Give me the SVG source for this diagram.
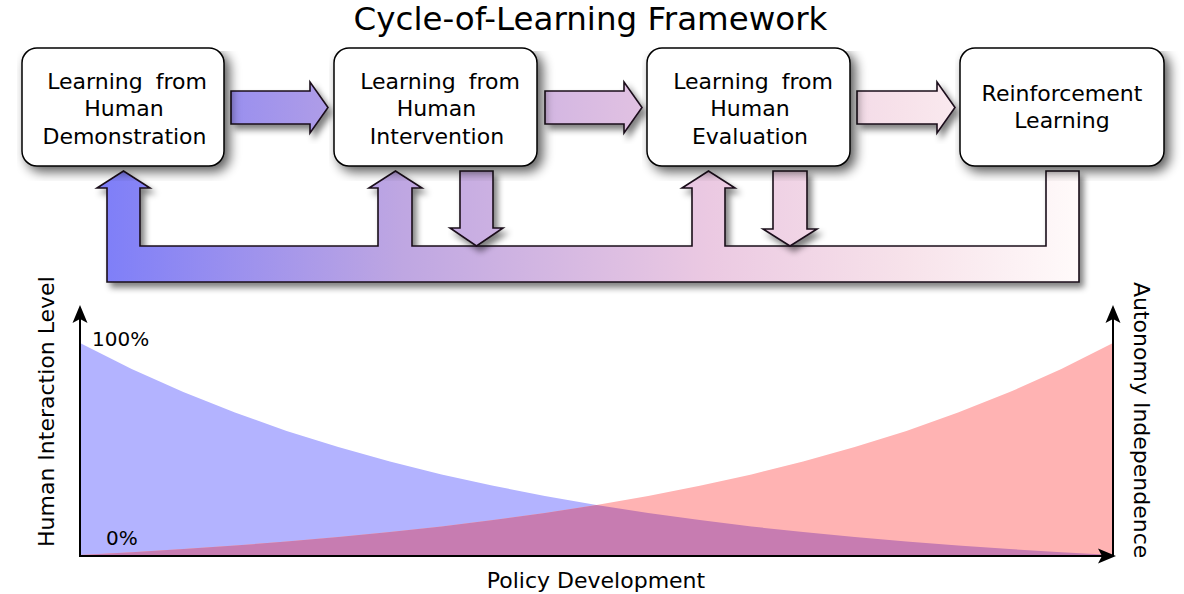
<svg xmlns="http://www.w3.org/2000/svg" width="1184" height="594" viewBox="0 0 1184 594">
<defs>
<style>
text{font-family:"DejaVu Sans","Liberation Sans",sans-serif;fill:#000}
.box{fill:#fff;stroke:#000;stroke-width:1.5}
.lbl{font-size:22px;text-anchor:middle}
.arw{fill:url(#flow);stroke:#1a0d1a;stroke-width:1.6;stroke-linejoin:miter}
.axis{stroke:#000;stroke-width:2;fill:none}
.head{fill:#000}
</style>
<linearGradient id="flow" gradientUnits="userSpaceOnUse" x1="107" y1="0" x2="1079" y2="0">
<stop offset="0" stop-color="#7f7ff8"/>
<stop offset="0.3" stop-color="#bea6e2"/>
<stop offset="0.62" stop-color="#ebc9e2"/>
<stop offset="0.82" stop-color="#f7e2ea"/>
<stop offset="1" stop-color="#fffafa"/>
</linearGradient>
<filter id="bsh" x="-4.5%" y="-1%" width="115%" height="113%">
<feGaussianBlur in="SourceAlpha" stdDeviation="6"/>
<feOffset dx="5" dy="5" result="o"/>
<feComponentTransfer><feFuncA type="linear" slope="0.65"/></feComponentTransfer>
<feMerge><feMergeNode/><feMergeNode in="SourceGraphic"/></feMerge>
</filter>
<filter id="ash" x="-10%" y="-10%" width="130%" height="130%">
<feGaussianBlur in="SourceAlpha" stdDeviation="3"/>
<feOffset dx="4" dy="5"/>
<feComponentTransfer><feFuncA type="linear" slope="0.5"/></feComponentTransfer>
<feMerge><feMergeNode/><feMergeNode in="SourceGraphic"/></feMerge>
</filter>
</defs>
<rect width="1184" height="594" fill="#fff"/>
<text x="590.5" y="30" font-size="32.5" text-anchor="middle">Cycle-of-Learning Framework</text>

<g id="connectors">
<path class="arw" filter="url(#ash)" d="M107,282 L107,188 L97,188 L123.5,171 L150,188 L140,188 L140,246 L378,246 L378,188 L369,188 L395.5,171 L422,188 L412,188 L412,246 L692,246 L692,188 L682,188 L708.5,171 L735,188 L725,188 L725,246 L1046,246 L1046,171 L1079,171 L1079,282 Z"/>
<path class="arw" filter="url(#ash)" d="M460,171 L493,171 L493,228 L503,228 L476.5,246 L450,228 L460,228 Z"/>
<path class="arw" filter="url(#ash)" d="M773,171 L807,171 L807,229 L817,229 L790,246 L763,229 L773,229 Z"/>
<path class="arw" filter="url(#ash)" d="M231,91 L310,91 L310,82 L328,107.5 L310,133 L310,124 L231,124 Z"/>
<path class="arw" filter="url(#ash)" d="M545,91 L624,91 L624,82 L642,107.5 L624,133 L624,124 L545,124 Z"/>
<path class="arw" filter="url(#ash)" d="M857,91 L937,91 L937,82 L955,107.5 L937,133 L937,124 L857,124 Z"/>
</g>

<g id="node-demonstration">
<rect class="box" filter="url(#bsh)" x="22" y="48" width="202" height="118" rx="15"/>
<text class="lbl" x="127" y="88.5" word-spacing="6">Learning from</text>
<text class="lbl" x="124" y="116">Human</text>
<text class="lbl" x="124.5" y="143.5">Demonstration</text>
</g>
<g id="node-intervention">
<rect class="box" filter="url(#bsh)" x="334" y="48" width="203" height="118" rx="15"/>
<text class="lbl" x="440" y="88.5" word-spacing="6">Learning from</text>
<text class="lbl" x="436.5" y="116">Human</text>
<text class="lbl" x="437" y="143.5">Intervention</text>
</g>
<g id="node-evaluation">
<rect class="box" filter="url(#bsh)" x="647" y="48" width="203" height="118" rx="15"/>
<text class="lbl" x="753" y="88.5" word-spacing="6">Learning from</text>
<text class="lbl" x="750" y="116">Human</text>
<text class="lbl" x="750" y="143.5">Evaluation</text>
</g>
<g id="node-reinforcement">
<rect class="box" filter="url(#bsh)" x="960" y="48" width="204" height="118" rx="15"/>
<text class="lbl" x="1062" y="100.5">Reinforcement</text>
<text class="lbl" x="1062" y="128">Learning</text>
</g>

<g id="chart">
<path fill="#b3b3ff" d="M80,555 L80,343 L131.65,369 L183.3,392.1 L234.95,412.6 L286.6,430.9 L338.25,447.1 L389.9,461.6 L441.55,474.4 L493.2,485.8 L544.85,496 L596.5,505 L648.15,513 L699.8,520.1 L751.45,526.5 L803.1,532.1 L854.75,537.1 L906.4,541.6 L958.05,545.5 L1009.7,549.1 L1061.35,552.2 L1113,555 Z"/>
<path fill="#ffb3b3" d="M1113,555 L1113,343 L1061.35,369 L1009.7,392.1 L958.05,412.6 L906.4,430.9 L854.75,447.1 L803.1,461.6 L751.45,474.4 L699.8,485.8 L648.15,496 L596.5,505 L544.85,513 L493.2,520.1 L441.55,526.5 L389.9,532.1 L338.25,537.1 L286.6,541.6 L234.95,545.5 L183.3,549.1 L131.65,552.2 L80,555 Z"/>
<path fill="#c77cb1" d="M80,555 L131.65,552.2 L183.3,549.1 L234.95,545.5 L286.6,541.6 L338.25,537.1 L389.9,532.1 L441.55,526.5 L493.2,520.1 L544.85,513 L596.5,505 L648.15,513 L699.8,520.1 L751.45,526.5 L803.1,532.1 L854.75,537.1 L906.4,541.6 L958.05,545.5 L1009.7,549.1 L1061.35,552.2 L1113,555 Z"/>
<path class="axis" d="M80,315 L80,556 L1105,556"/>
<path class="axis" d="M1113,315 L1113,556"/>
<path class="head" d="M80,305 L87.5,323 L80,319 L72.5,323 Z"/>
<path class="head" d="M1113,305 L1120.5,323 L1113,319 L1105.5,323 Z"/>
<path class="head" d="M1116,556 L1098,563.5 L1102,556 L1098,548.5 Z"/>
<text x="92" y="345.5" font-size="20">100%</text>
<text x="106" y="545" font-size="20">0%</text>
<text x="596" y="588" font-size="22" text-anchor="middle">Policy Development</text>
<text transform="translate(54,547) rotate(-90)" font-size="22">Human Interaction Level</text>
<text transform="translate(1134,282) rotate(90)" font-size="22">Autonomy Independence</text>
</g>
</svg>
